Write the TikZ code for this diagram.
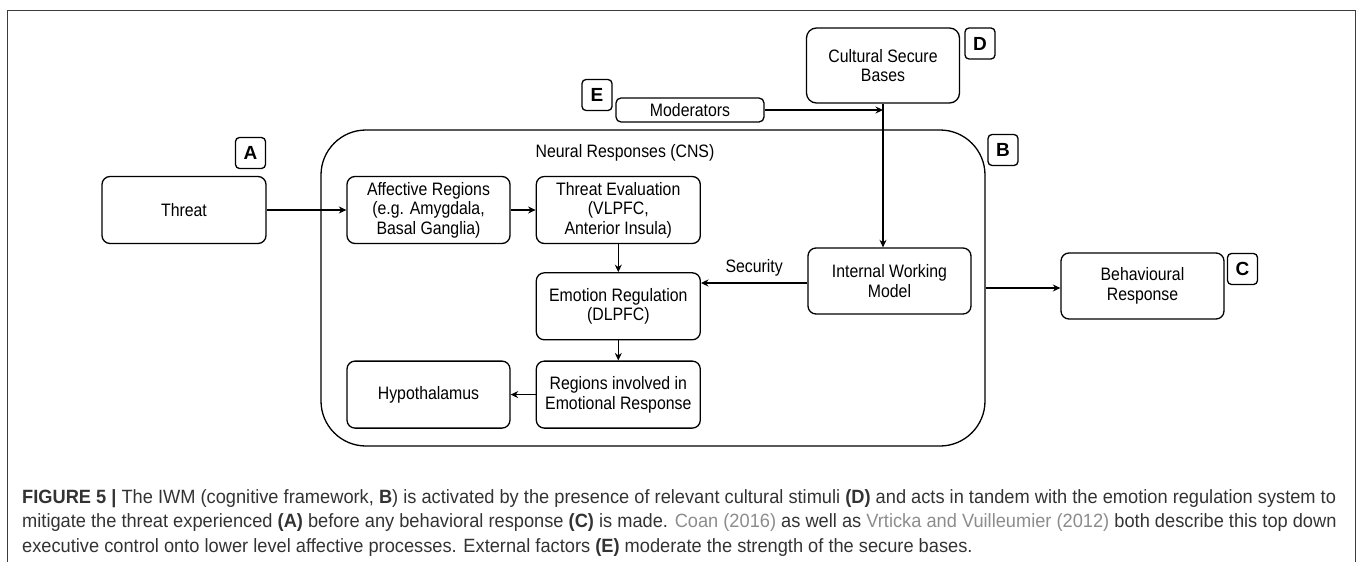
\documentclass[tikz,border=0pt]{standalone}
\usepackage{fontspec}
\setmainfont{Liberation Sans}[FakeStretch=0.88]
\newfontfamily\tagfont{Liberation Sans}
\newfontfamily\capfont{Liberation Sans}[FakeStretch=0.95]
\usepackage{xcolor}
\usetikzlibrary{positioning,arrows.meta}
\definecolor{capgray}{HTML}{333333}
\definecolor{citegray}{HTML}{8C8C8C}
\definecolor{framegray}{HTML}{3C3C3C}

\begin{document}
\begin{tikzpicture}[
  x=1pt, y=-1pt,
  font=\fontsize{18}{19.5}\selectfont,
  node distance=25pt,
  region/.style={draw=black, rounded corners=8pt, align=center, minimum width=164pt, minimum height=67pt, inner sep=2pt, line width=1.3pt},
  tagbox/.style={draw=black, rounded corners=4pt, minimum width=30pt, minimum height=31pt, inner sep=0pt, line width=1.3pt, font=\tagfont\bfseries\fontsize{19}{19}\selectfont},
  captext/.style={anchor=base west, inner sep=0pt, text=capgray, font=\capfont\fontsize{19.2}{24}\selectfont},
  arrow/.style={-{Stealth[length=7.5pt, width=7pt]}, draw=black, line width=1.3pt}
]
\useasboundingbox (0,0) rectangle (1358,562);
\draw[framegray, line width=1pt] (7,562) |- (1355,10) -- (1355,562);

% container for the neural responses
\node[draw=black, line width=1.3pt, rounded corners=45pt, minimum width=664pt, minimum height=316pt, inner sep=0pt] (cns) at (653,288) {};
\node (cnstitle) at (625,153) {Neural Responses (CNS)};

\node[region] (threat) at (184,210) {Threat};
\node[region, minimum width=163pt] (affect) at (428.5,210) {Affective Regions\\(e.g. Amygdala,\\Basal Ganglia)};
\node[region, right=of affect] (evaluation) {Threat Evaluation\\(VLPFC,\\Anterior Insula)};
\node[region, below=28pt of evaluation] (regulation) {Emotion Regulation\\(DLPFC)};
\node[region, below=20pt of regulation] (regions) {Regions involved in\\Emotional Response};
\node[region, minimum width=163pt, left=of regions] (hypo) {Hypothalamus};
\node[region, minimum width=163pt, minimum height=66pt] (iwm) at (889.5,281) {Internal Working\\Model};
\node[region, minimum width=163pt, minimum height=66pt] (behave) at (1142.5,286) {Behavioural\\Response};
\node[region, minimum width=153pt, minimum height=75pt, rounded corners=10pt] (cultural) at (883,65.5) {Cultural Secure\\Bases};
\node[region, minimum width=148pt, minimum height=24pt, rounded corners=5pt, inner sep=0pt] (moderators) at (690,110) {Moderators};

% letter tags
\node[tagbox] (tagA) at (250.5,153) {A};
\node[tagbox] (tagB) at (1003,150) {B};
\node[tagbox] (tagC) at (1242.5,269) {C};
\node[tagbox] (tagD) at (980,43.5) {D};
\node[tagbox] (tagE) at (597,95) {E};

\coordinate (joint) at (moderators.east -| cultural.south);

\draw[arrow] (threat) -- (affect);
\draw[arrow] (affect) -- (evaluation);
\draw[arrow] (evaluation) -- (regulation);
\draw[arrow] (regulation) -- (regions);
\draw[arrow] (regions) -- (hypo);
\draw[line width=1.3pt] (cultural) -- (joint);
\draw[arrow] (joint) -- (cultural.south |- iwm.north);
\draw[arrow] (moderators) -- (joint);
\draw[arrow] ([yshift=-2pt]iwm.west) -- node[above=3pt] (security) {Security} ([yshift=-2pt]iwm.west -| regulation.east);
\draw[arrow] ([yshift=-2pt]behave.west -| cns.east) -- ([yshift=-2pt]behave.west);

% caption
\node[captext] (cap1) at (22,503) {\textbf{FIGURE 5 |} The IWM (cognitive framework, \textbf{B}) is activated by the presence of relevant cultural stimuli \textbf{(D)} and acts in tandem with the emotion regulation system to};
\node[captext] (cap2) at (22,527.5) {mitigate the threat experienced \textbf{(A)} before any behavioral response \textbf{(C)} is made. {\color{citegray}Coan (2016)} as well as {\color{citegray}Vrticka and Vuilleumier (2012)} both describe this top down};
\node[captext] (cap3) at (22,552) {executive control onto lower level affective processes. External factors \textbf{(E)} moderate the strength of the secure bases.};
\end{tikzpicture}
\end{document}
